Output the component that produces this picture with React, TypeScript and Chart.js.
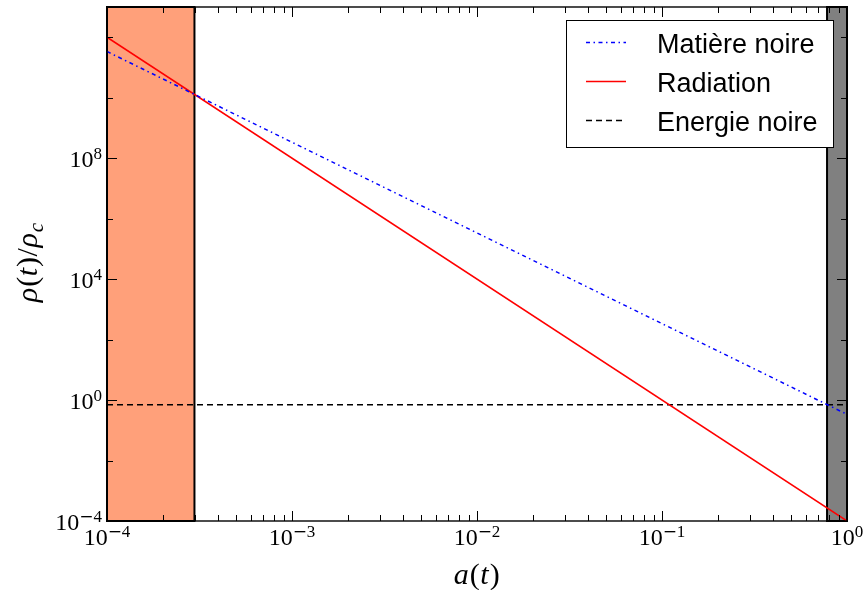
import React, { useEffect, useRef } from 'react';
import { Chart, registerables } from 'chart.js';

Chart.register(...registerables);

// ---- data ----
const scaleFactor = [1e-4, 1];
const matiereNoire = [3.37e11, 0.337];
const radiation = [1e12, 1e-4];
const energieNoire = [0.7, 0.7];
const radiationEra = [1e-4, 2.97e-4];
const darkEnergyEra = [0.78, 1];
const xRange = [1e-4, 1];
const yRange = [1e-4, 1e13];
const xMajorExp = [-4, -3, -2, -1, 0];
const xMinorMult = [2, 3, 4, 5, 6, 7, 8, 9];
const yMajorExp = [-4, 0, 4, 8];
const yMinorExp = [-2, 2, 6, 10, 12];
const legendLabels = ['Matière noire', 'Radiation', 'Energie noire'];
const xTitle = 'a(t)';

const BASE_FONT = '24px "Liberation Serif"';
const EXP_FONT = '17px "Liberation Serif"';
const MINUS_FONT = '17px "DejaVu Serif"';

const styles = [
  { color: '#0000ff', width: 1.5, dash: [4, 3.5, 1.5, 3.5] },
  { color: '#ff0000', width: 1.5, dash: [] as number[] },
  { color: '#000000', width: 1.5, dash: [6, 4] },
];

function measurePow(ctx: CanvasRenderingContext2D, exp: number) {
  ctx.font = BASE_FONT;
  const wb = ctx.measureText('10').width;
  const sign = exp < 0 ? '−' : '';
  const digits = String(Math.abs(exp));
  ctx.font = MINUS_FONT;
  const wm = sign ? ctx.measureText(sign).width : 0;
  ctx.font = EXP_FONT;
  const wd = ctx.measureText(digits).width;
  return { wb, wm, wd, sign, digits, total: wb + wm + wd };
}

function drawPow(ctx: CanvasRenderingContext2D, exp: number, left: number, baseline: number) {
  const m = measurePow(ctx, exp);
  ctx.fillStyle = '#000';
  ctx.textAlign = 'left';
  ctx.textBaseline = 'alphabetic';
  ctx.font = BASE_FONT;
  ctx.fillText('10', left, baseline);
  const eb = baseline - 8;
  let x = left + m.wb;
  if (m.sign) {
    ctx.font = MINUS_FONT;
    ctx.fillText(m.sign, x, eb);
    x += m.wm;
  }
  ctx.font = EXP_FONT;
  ctx.fillText(m.digits, x, eb);
}

type Seg = { t: string; it: boolean; sub?: boolean };

function drawSegs(ctx: CanvasRenderingContext2D, segs: Seg[], cx: number, baseline: number, size: number) {
  const fontOf = (s: Seg) =>
    `${s.it ? 'italic ' : ''}${s.sub ? Math.round(size * 0.7) : size}px "Liberation Serif"`;
  let total = 0;
  const widths = segs.map((s) => {
    ctx.font = fontOf(s);
    const w = ctx.measureText(s.t).width + (s.it ? 1 : 0.5);
    total += w;
    return w;
  });
  let x = cx - total / 2;
  ctx.fillStyle = '#000';
  ctx.textAlign = 'left';
  ctx.textBaseline = 'alphabetic';
  segs.forEach((s, i) => {
    ctx.font = fontOf(s);
    ctx.fillText(s.t, x, baseline + (s.sub ? 6 : 0));
    x += widths[i];
  });
}

const decor = {
  id: 'decor',
  beforeDatasetsDraw(chart: any) {
    const { ctx, chartArea: ca, scales } = chart;
    const x = scales.x;
    ctx.save();
    const band = (range: number[], color: string) => {
      const x0 = x.getPixelForValue(range[0]);
      const x1 = x.getPixelForValue(range[1]);
      ctx.fillStyle = color;
      ctx.fillRect(x0, ca.top, x1 - x0, ca.bottom - ca.top);
      ctx.strokeStyle = '#000';
      ctx.lineWidth = 2;
      ctx.strokeRect(x0, ca.top, x1 - x0, ca.bottom - ca.top);
    };
    band(radiationEra, '#ffa07a');
    band(darkEnergyEra, '#808080');
    ctx.restore();
  },
  afterDraw(chart: any) {
    const { ctx, chartArea: ca, scales } = chart;
    const sx = scales.x;
    const sy = scales.y;
    ctx.save();
    // frame
    ctx.strokeStyle = '#000';
    ctx.lineWidth = 1.4;
    ctx.strokeRect(ca.left, ca.top, ca.right - ca.left, ca.bottom - ca.top);

    // ticks
    ctx.lineWidth = 1;
    const vTick = (px: number, len: number) => {
      const p = Math.round(px) + 0.5;
      ctx.beginPath();
      ctx.moveTo(p, ca.bottom);
      ctx.lineTo(p, ca.bottom - len);
      ctx.moveTo(p, ca.top);
      ctx.lineTo(p, ca.top + len);
      ctx.stroke();
    };
    const hTick = (py: number, len: number) => {
      const p = Math.round(py) + 0.5;
      ctx.beginPath();
      ctx.moveTo(ca.left, p);
      ctx.lineTo(ca.left + len, p);
      ctx.moveTo(ca.right, p);
      ctx.lineTo(ca.right - len, p);
      ctx.stroke();
    };
    xMajorExp.forEach((e) => vTick(sx.getPixelForValue(Math.pow(10, e)), 10));
    xMajorExp.slice(0, -1).forEach((e) =>
      xMinorMult.forEach((m) => vTick(sx.getPixelForValue(m * Math.pow(10, e)), 6))
    );
    yMajorExp.forEach((e) => hTick(sy.getPixelForValue(Math.pow(10, e)), 10));
    yMinorExp.forEach((e) => hTick(sy.getPixelForValue(Math.pow(10, e)), 6));

    // tick labels
    xMajorExp.forEach((e) => {
      const px = sx.getPixelForValue(Math.pow(10, e));
      const m = measurePow(ctx, e);
      drawPow(ctx, e, px - m.total / 2, ca.bottom + 23.5);
    });
    yMajorExp.forEach((e) => {
      const py = sy.getPixelForValue(Math.pow(10, e));
      const m = measurePow(ctx, e);
      drawPow(ctx, e, ca.left - 5 - m.total, py + 8.5);
    });

    // axis titles
    drawSegs(
      ctx,
      [
        { t: xTitle[0], it: true },
        { t: xTitle[1], it: false },
        { t: xTitle[2], it: true },
        { t: xTitle[3], it: false },
      ],
      (ca.left + ca.right) / 2,
      584,
      30
    );
    ctx.save();
    ctx.translate(37, (ca.top + ca.bottom) / 2 - 2);
    ctx.rotate(-Math.PI / 2);
    drawSegs(
      ctx,
      [
        { t: 'ρ', it: true },
        { t: '(', it: false },
        { t: 't', it: true },
        { t: ')', it: false },
        { t: '/', it: false },
        { t: 'ρ', it: true },
        { t: 'c', it: true, sub: true },
      ],
      0,
      0,
      30
    );
    ctx.restore();

    // legend
    const lx = 566.5, ly = 20.5, lw = 267, lh = 127;
    ctx.fillStyle = '#fff';
    ctx.fillRect(lx, ly, lw, lh);
    ctx.strokeStyle = '#000';
    ctx.lineWidth = 1;
    ctx.strokeRect(lx, ly, lw, lh);
    const baselines = [53, 92, 131];
    legendLabels.forEach((label, i) => {
      const st = styles[i];
      const yl = baselines[i] - 10.5;
      ctx.beginPath();
      ctx.strokeStyle = st.color;
      ctx.lineWidth = st.width;
      ctx.setLineDash(st.dash);
      ctx.moveTo(586, yl);
      ctx.lineTo(626, yl);
      ctx.stroke();
      ctx.setLineDash([]);
      ctx.fillStyle = '#000';
      ctx.font = '27px "Liberation Sans"';
      ctx.textAlign = 'left';
      ctx.textBaseline = 'alphabetic';
      ctx.fillText(label, 657, baselines[i]);
    });
    ctx.restore();
  },
};

export default function App() {
  const ref = useRef<HTMLCanvasElement>(null);
  useEffect(() => {
    document.body.style.margin = '0';
    const series = [matiereNoire, radiation, energieNoire];
    const chart = new Chart(ref.current!, {
      type: 'line',
      data: {
        datasets: series.map((vals, i) => ({
          label: legendLabels[i],
          data: scaleFactor.map((a, j) => ({ x: a, y: vals[j] })),
          borderColor: styles[i].color,
          borderWidth: styles[i].width,
          borderDash: styles[i].dash,
          pointRadius: 0,
          fill: false,
          tension: 0,
        })),
      },
      options: {
        animation: false,
        responsive: false,
        devicePixelRatio: 1,
        layout: { padding: { left: 107, right: 18, top: 7, bottom: 69 } },
        plugins: { legend: { display: false }, tooltip: { enabled: false } },
        scales: {
          x: { type: 'logarithmic', min: xRange[0], max: xRange[1], display: false },
          y: { type: 'logarithmic', min: yRange[0], max: yRange[1], display: false },
        },
      },
      plugins: [decor],
    } as any);
    return () => chart.destroy();
  }, []);
  return <canvas ref={ref} width={865} height={590} style={{ display: 'block' }} />;
}
